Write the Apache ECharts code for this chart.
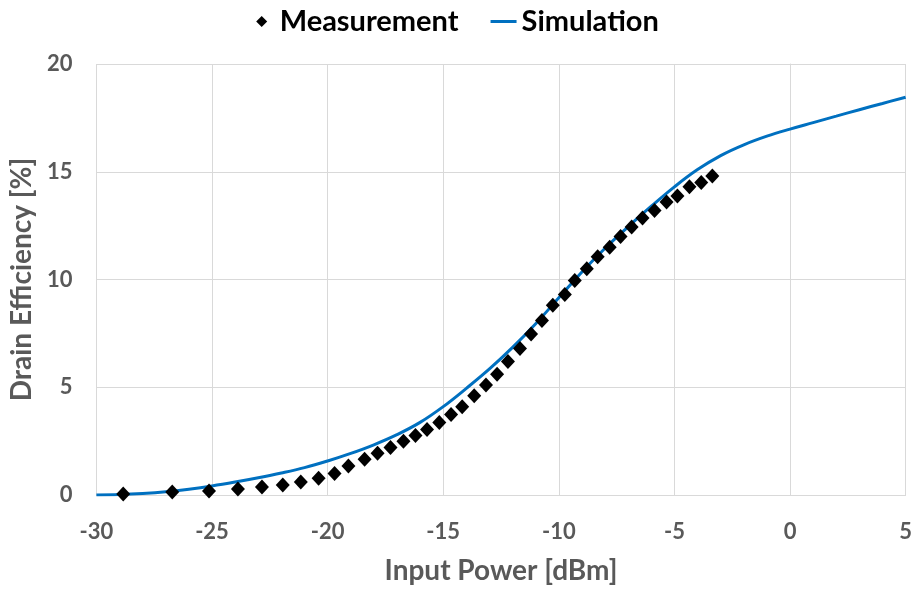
<!DOCTYPE html>
<html><head><meta charset="utf-8">
<script src="https://cdn.jsdelivr.net/npm/echarts@6/dist/echarts.min.js"></script>
<style>html,body{margin:0;padding:0;background:#fff}#c{width:915px;height:590px}</style>
</head><body><div id="c"></div>
<script>
const measX = [-28.84,-26.72,-25.13,-23.88,-22.84,-21.94,-21.16,-20.39,-19.7,-19.1,-18.4,-17.84,-17.28,-16.72,-16.2,-15.7,-15.17,-14.66,-14.18,-13.66,-13.15,-12.67,-12.2,-11.68,-11.2,-10.73,-10.26,-9.74,-9.31,-8.79,-8.32,-7.8,-7.33,-6.85,-6.38,-5.86,-5.34,-4.87,-4.35,-3.84,-3.36];
const measY = [0.05,0.14,0.18,0.28,0.37,0.46,0.6,0.78,1.0,1.34,1.66,1.94,2.2,2.5,2.76,3.04,3.36,3.73,4.1,4.6,5.1,5.6,6.2,6.8,7.47,8.1,8.8,9.3,9.95,10.5,11.06,11.5,12.0,12.44,12.85,13.2,13.6,13.87,14.3,14.5,14.8];
const simX = [-30,-29,-28,-27,-26,-25,-24,-23,-22,-21,-20,-19,-18,-17,-16,-15,-14,-13,-12,-11,-10,-9,-8,-7,-6,-5,-4,-3,-2,-1,0,1,2,3,4,5];
const simY = [0.0,0.02,0.07,0.15,0.27,0.42,0.6,0.8,1.02,1.27,1.58,1.93,2.33,2.8,3.37,4.1,4.95,5.85,6.85,7.95,9.15,10.35,11.45,12.45,13.4,14.3,15.1,15.75,16.25,16.65,16.98,17.28,17.58,17.88,18.17,18.46];
const xTicks = [-30,-25,-20,-15,-10,-5,0,5];
const yTicks = [0,5,10,15,20];

const FONT = 'Lato';
const GRAY = '#595959';
const chart = echarts.init(document.getElementById('c'));
chart.setOption({
  animation: false,
  textStyle: {fontFamily: FONT},
  legend: {
    top: 2, left: 'center', itemGap: 32, itemWidth: 26, itemHeight: 11,
    textStyle: {fontFamily: FONT, fontWeight: 'bold', fontSize: 29, color: '#000'},
    data: [{name: 'Measurement', icon: 'path://M5,0 L10,5 L5,10 L0,5 Z', itemStyle: {color: '#000'}},
           {name: 'Simulation', icon: 'path://M0,0 L26,0 L26,3 L0,3 Z', itemStyle: {color: '#0070C0'}}]
  },
  grid: {left: 95, right: 8, top: 64, bottom: 92},
  xAxis: {
    type: 'value', min: -30, max: 5, interval: 5,
    name: 'Input Power [dBm]', nameLocation: 'middle', nameGap: 62,
    nameTextStyle: {fontFamily: FONT, fontWeight: 'bold', fontSize: 28, color: GRAY},
    axisLine: {show: true, onZero: false, lineStyle: {color: '#d9d9d9'}},
    axisTick: {show: false},
    axisLabel: {fontFamily: FONT, fontWeight: 'bold', fontSize: 22, color: GRAY, margin: 26,
      formatter: v => xTicks.includes(v) ? String(v) : ''},
    splitLine: {show: true, lineStyle: {color: '#d9d9d9'}}
  },
  yAxis: {
    type: 'value', min: 0, max: 20, interval: 5,
    name: 'Drain Efficiency [%]', nameLocation: 'middle', nameGap: 58, nameRotate: 90,
    nameTextStyle: {fontFamily: FONT, fontWeight: 'bold', fontSize: 28, color: GRAY},
    axisLine: {show: true, lineStyle: {color: '#d9d9d9'}},
    axisTick: {show: false},
    axisLabel: {fontFamily: FONT, fontWeight: 'bold', fontSize: 22, color: GRAY, margin: 24,
      formatter: v => yTicks.includes(v) ? String(v) : ''},
    splitLine: {show: true, lineStyle: {color: '#d9d9d9'}}
  },
  series: [
    {name: 'Measurement', type: 'scatter', symbol: 'diamond', symbolSize: [14, 15],
     itemStyle: {color: '#000', opacity: 1}, z: 3,
     data: measX.map((x, i) => [x, measY[i]])},
    {name: 'Simulation', type: 'line', smooth: 0.4, showSymbol: false, symbol: 'none',
     lineStyle: {color: '#0070C0', width: 3}, itemStyle: {color: '#0070C0'}, z: 2,
     data: simX.map((x, i) => [x, simY[i]])}
  ]
});
</script></body></html>
